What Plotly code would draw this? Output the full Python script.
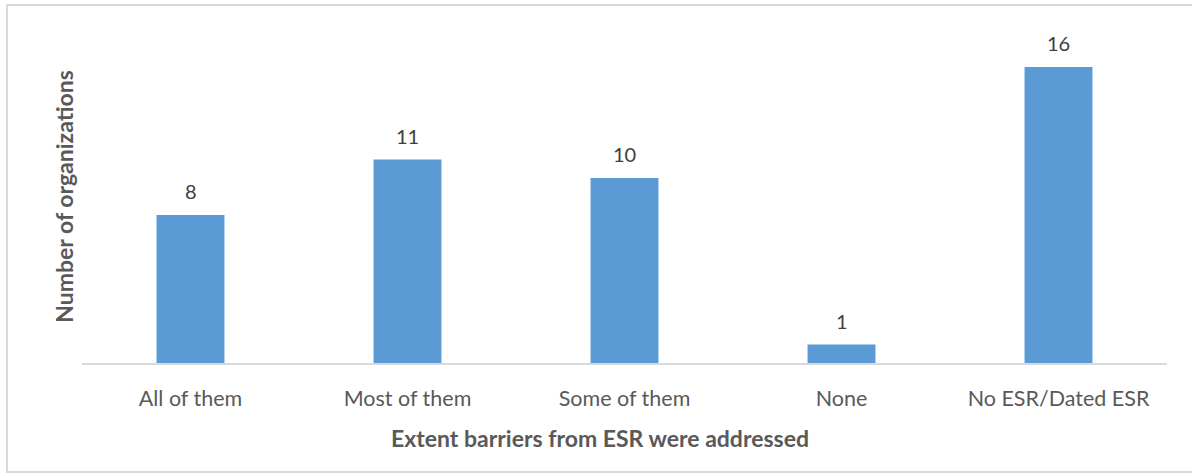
import plotly.graph_objects as go

categories = ["All of them", "Most of them", "Some of them", "None", "No ESR/Dated ESR"]
values = [8, 11, 10, 1, 16]
x_title = "Extent barriers from ESR were addressed"
y_title = "Number of organizations"

W, H = 1192, 474
ml, mr, mt, mb = 82, 25, 30, 111
pw, ph = W - ml - mr, H - mt - mb

fig = go.Figure(go.Bar(
    x=categories, y=values,
    marker=dict(color="#5B9BD5", line=dict(width=0)),
    hoverinfo="skip",
))

for c, v in zip(categories, values):
    fig.add_annotation(x=c, y=v, text=str(v), showarrow=False,
                       yanchor="bottom", yshift=10,
                       font=dict(family="Lato", size=20, color="#404040"))

# x-axis title, centred on the whole chart as in the reference
fig.add_annotation(xref="paper", yref="paper",
                   x=(600 - ml) / pw, y=-(438 - (H - mb)) / ph,
                   xanchor="center", yanchor="middle", showarrow=False,
                   text="<b>" + x_title + "</b>",
                   font=dict(family="Lato", size=23, color="#595959"))

# outer chart border
fig.add_shape(type="rect", xref="paper", yref="paper",
              x0=(7 - ml) / pw, x1=(1200 - ml) / pw,
              y0=-(472 - (H - mb)) / ph, y1=((H - mb) - 5) / ph,
              line=dict(color="#D9D9D9", width=2), layer="below")

fig.update_layout(
    width=W, height=H,
    margin=dict(l=ml, r=mr, t=mt, b=mb),
    paper_bgcolor="white", plot_bgcolor="white",
    bargap=0.687,
    showlegend=False,
    font=dict(family="Lato", size=21, color="#595959"),
    xaxis=dict(
        showline=True, linecolor="#D9D9D9", linewidth=1.5,
        ticks="", ticklabelstandoff=15,
        tickfont=dict(size=21.5, color="#595959"),
        fixedrange=True,
    ),
    yaxis=dict(
        range=[0, 18], showgrid=False, showticklabels=False, zeroline=False,
        showline=False,
        title=dict(text="<b>" + y_title + "</b>", standoff=0,
                   font=dict(size=23, color="#595959")),
        fixedrange=True,
    ),
)

fig.write_html("out.html")
